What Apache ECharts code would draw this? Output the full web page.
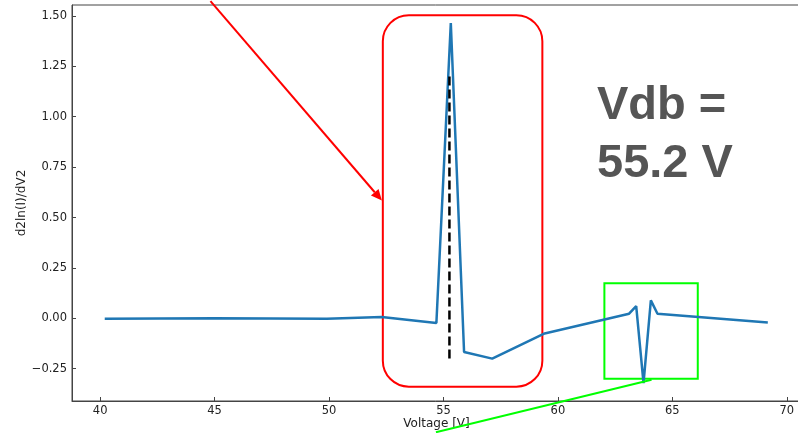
<!DOCTYPE html>
<html>
<head>
<meta charset="utf-8">
<script src="https://cdn.jsdelivr.net/npm/echarts@6/dist/echarts.min.js"></script>
<style>
  html, body { margin: 0; padding: 0; background: #fff; }
  #chart { width: 798px; height: 433px; }
</style>
</head>
<body>
<div id="chart"></div>
<script>
// second derivative curve
const voltage = [40.2, 45.0, 49.9, 52.3, 54.69, 55.32, 55.9, 57.13, 59.42, 63.11, 63.42, 63.74, 64.06, 64.35, 69.17];
const d2lnI = [-0.002, 0.0, -0.002, 0.007, -0.023, 1.465, -0.167, -0.2, -0.075, 0.023, 0.061, -0.321, 0.089, 0.023, -0.021];

// dashed marker at the breakdown voltage
const vdbX = [55.26, 55.26];
const vdbY = [1.2, -0.2];

// tick labels
const xTicks = [40, 45, 50, 55, 60, 65, 70];
const yTicks = [-0.25, 0, 0.25, 0.5, 0.75, 1.0, 1.25, 1.5];

// annotation shapes, in data coordinates
const redBox = [[52.35, 1.503], [59.32, -0.339]];
const greenBox = [[62.03, 0.174], [66.11, -0.30]];
const redArrow = [[44.82, 1.573], [52.31, 0.584]];
const greenLine = [[64.09, -0.305], [54.67, -0.565]];

const chart = echarts.init(document.getElementById('chart'));

function fmtY(v) {
    const s = Math.abs(v).toFixed(2);
    return v < 0 ? '\u2212' + s : s;
}

const option = {
    animation: false,
    grid: {
        left: 72, right: -3, top: 5, bottom: 32,
        outerBoundsMode: 'none',
        containLabel: false,
        show: true, borderColor: '#444', borderWidth: 1
    },
    xAxis: {
        type: 'value',
        min: 38.77, max: 70.62,
        name: 'Voltage [V]',
        nameLocation: 'middle',
        nameGap: 17,
        nameMoveOverlap: false,
        nameTextStyle: { fontFamily: 'DejaVu Sans', fontSize: 12, color: '#222' },
        axisLine: { onZero: false, lineStyle: { color: '#444' } },
        axisTick: { inside: true, length: 4, lineStyle: { color: '#444' }, customValues: xTicks },
        axisLabel: { fontFamily: 'DejaVu Sans', fontSize: 11.5, color: '#222', margin: 4, customValues: xTicks },
        splitLine: { show: false }
    },
    yAxis: {
        type: 'value',
        min: -0.41, max: 1.554,
        name: 'd2ln(I)/dV2',
        nameLocation: 'middle',
        nameGap: 44,
        nameMoveOverlap: false,
        nameTextStyle: { fontFamily: 'DejaVu Sans', fontSize: 12, color: '#222' },
        axisLine: { show: true, onZero: false, lineStyle: { color: '#444' } },
        axisTick: { show: true, inside: true, length: 4, lineStyle: { color: '#444' }, customValues: yTicks },
        axisLabel: { fontFamily: 'DejaVu Sans', fontSize: 11.5, color: '#222', margin: 5,
                     customValues: yTicks, formatter: fmtY },
        splitLine: { show: false }
    },
    series: [
        {
            name: 'd2ln(I)/dV2',
            type: 'line',
            data: voltage.map((v, i) => [v, d2lnI[i]]),
            showSymbol: false,
            z: 3,
            lineStyle: { color: '#1f77b4', width: 2.5 }
        },
        {
            name: 'Vdb',
            type: 'line',
            data: vdbX.map((v, i) => [v, vdbY[i]]),
            showSymbol: false,
            z: 4,
            lineStyle: { color: '#000', width: 2.5, type: [9, 4] }
        }
    ]
};
chart.setOption(option);

// annotations placed after the axes exist
function px(p) {
    return chart.convertToPixel({ gridIndex: 0 }, p);
}

function boxShape(b) {
    const a = px(b[0]), c = px(b[1]);
    return { x: a[0], y: a[1], width: c[0] - a[0], height: c[1] - a[1] };
}

const ra = px(redArrow[0]), rb = px(redArrow[1]);
const dx = rb[0] - ra[0], dy = rb[1] - ra[1];
const len = Math.sqrt(dx * dx + dy * dy);
const ux = dx / len, uy = dy / len;
const headLen = 11, headW = 5;
const baseX = rb[0] - ux * headLen, baseY = rb[1] - uy * headLen;

const rbox = boxShape(redBox);
const gbox = boxShape(greenBox);
const ga = px(greenLine[0]), gb = px(greenLine[1]);

chart.setOption({
    graphic: [
        {
            type: 'rect', z: 1,
            shape: Object.assign(rbox, { r: 26 }),
            style: { fill: 'none', stroke: '#ff0000', lineWidth: 2 }
        },
        {
            type: 'rect', z: 1,
            shape: gbox,
            style: { fill: 'none', stroke: '#00ff00', lineWidth: 2 }
        },
        {
            type: 'line', z: 5,
            shape: { x1: ra[0], y1: ra[1], x2: baseX, y2: baseY },
            style: { stroke: '#ff0000', lineWidth: 2 }
        },
        {
            type: 'polygon', z: 5,
            shape: { points: [
                [rb[0], rb[1]],
                [baseX - uy * headW, baseY + ux * headW],
                [baseX + uy * headW, baseY - ux * headW]
            ] },
            style: { fill: '#ff0000' }
        },
        {
            type: 'line', z: 5,
            shape: { x1: ga[0], y1: ga[1], x2: gb[0], y2: gb[1] },
            style: { stroke: '#00ff00', lineWidth: 2 }
        },
        {
            type: 'text', z: 6,
            x: 597, y: 130,
            style: {
                text: 'Vdb =',
                font: 'bold 47px "Liberation Sans", Arial, sans-serif',
                fill: '#555555',
                textVerticalAlign: 'bottom'
            }
        },
        {
            type: 'text', z: 6,
            x: 597, y: 188,
            style: {
                text: '55.2 V',
                font: 'bold 47px "Liberation Sans", Arial, sans-serif',
                fill: '#555555',
                textVerticalAlign: 'bottom'
            }
        }
    ]
});
</script>
</body>
</html>
